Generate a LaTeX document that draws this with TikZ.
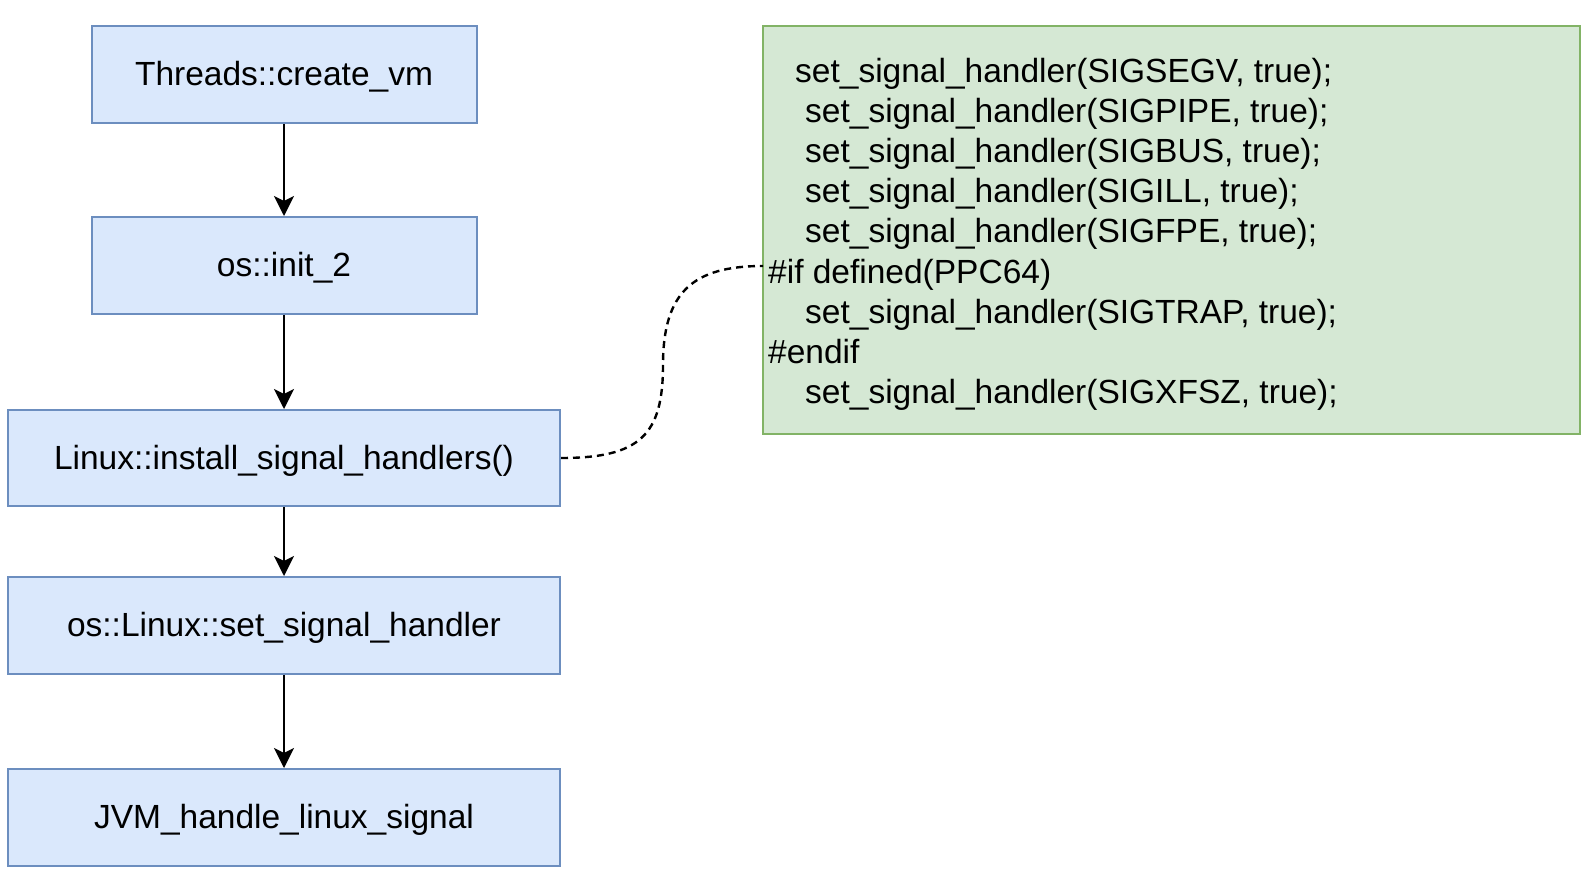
\documentclass[tikz,border=0pt]{standalone}
\usepackage{fontspec}
\setmainfont{Liberation Sans}
\usetikzlibrary{arrows.meta}
\definecolor{bfill}{HTML}{DAE8FC}
\definecolor{bdraw}{HTML}{6C8EBF}
\definecolor{gfill}{HTML}{D5E8D4}
\definecolor{gdraw}{HTML}{82B366}
\tikzset{
  flowbox/.style={draw=bdraw, fill=bfill, line width=2pt, inner sep=0pt,
    text height=28pt, text depth=6pt,
    font=\fontsize{33.5}{40}\selectfont},
  codebox/.style={draw=gdraw, fill=gfill, line width=2pt, inner sep=0pt},
  codeline/.style={anchor=base west, inner sep=0pt,
    font=\fontsize{33.5}{40}\selectfont},
  flowarrow/.style={line width=2pt, -{Stealth[length=20pt, width=20pt, inset=5pt]}},
  linkline/.style={line width=2.4pt, dash pattern=on 7pt off 5pt}
}
\begin{document}
\begin{tikzpicture}[x=1pt, y=-1pt]
\useasboundingbox (0,0) rectangle (1591,886);
\fill[white] (0,0) rectangle (1591,886);

\node[flowbox, minimum width=385pt, minimum height=97pt] (b1) at (284,74.5) {Threads::create\_vm};
\node[flowbox, minimum width=385pt, minimum height=97pt] (b2) at (284,265.5) {os::init\_2};
\node[flowbox, minimum width=552pt, minimum height=96pt] (b3) at (284,458) {Linux::install\_signal\_handlers()};
\node[flowbox, minimum width=552pt, minimum height=97pt] (b4) at (284,625.5) {os::Linux::set\_signal\_handler};
\node[flowbox, minimum width=552pt, minimum height=97pt] (b5) at (284,817.5) {JVM\_handle\_linux\_signal};

\draw[flowarrow] (b1) -- (b2);
\draw[flowarrow] (b2) -- (b3);
\draw[flowarrow] (b3) -- (b4);
\draw[flowarrow] (b4) -- (b5);

\node[codebox, minimum width=817pt, minimum height=408pt] (code) at (1171.5,230) {};

\node[codeline] (l1) at (795,82) {set\_signal\_handler(SIGSEGV, true);};
\node[codeline] (l2) at (805,122) {set\_signal\_handler(SIGPIPE, true);};
\node[codeline] (l3) at (805,162) {set\_signal\_handler(SIGBUS, true);};
\node[codeline] (l4) at (805,202) {set\_signal\_handler(SIGILL, true);};
\node[codeline] (l5) at (805,242) {set\_signal\_handler(SIGFPE, true);};
\node[codeline] (l6) at (768,283) {\#if defined(PPC64)};
\node[codeline] (l7) at (805,323) {set\_signal\_handler(SIGTRAP, true);};
\node[codeline] (l8) at (768,363) {\#endif};
\node[codeline] (l9) at (805,403) {set\_signal\_handler(SIGXFSZ, true);};

\coordinate (dmid) at (663,365);
\coordinate (dend) at (763,266);
\draw[linkline] (b3.east) .. controls (640,458) and (663,435) .. (dmid)
  .. controls (663,292) and (693,266) .. (dend);
\end{tikzpicture}
\end{document}
